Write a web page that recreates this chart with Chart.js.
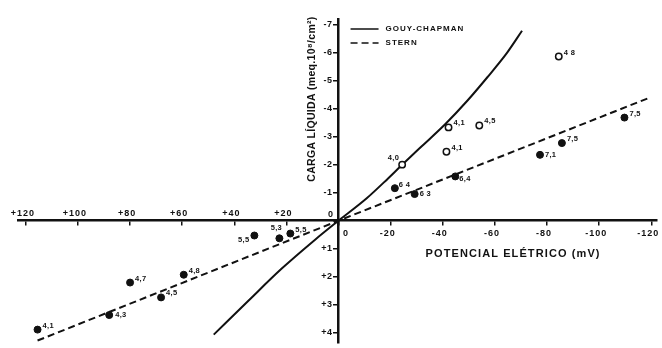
<!DOCTYPE html>
<html>
<head>
<meta charset="utf-8">
<script src="https://cdn.jsdelivr.net/npm/chart.js@4/dist/chart.umd.min.js"></script>
<style>
  body { margin: 0; background: #fff; }
  .wrap { width: 662px; height: 348px; position: relative; }
</style>
</head>
<body>
<div class="wrap"><canvas id="myChart"></canvas></div>
<script>
// filled dots (potencial mV, carga) and their pH labels
var filledX = [115.5, 88.0, 80.0, 68.1, 59.4, 32.3, 22.7, 18.5, -21.6, -29.2, -44.8, -77.3, -85.7, -109.7];
var filledY = [3.89, 3.37, 2.21, 2.74, 1.93, 0.53, 0.63, 0.46, -1.16, -0.95, -1.58, -2.35, -2.77, -3.68];
var filledLabels = ['4,1', '4,3', '4,7', '4,5', '4,8', '5,5', '5,3', '5,5', '6 4', '6 3', '6,4', '7,1', '7,5', '7,5'];

// open dots
var openX = [-24.4, -42.2, -54.0, -41.4, -84.5];
var openY = [-2.0, -3.33, -3.40, -2.46, -5.86];
var openLabels = ['4,0', '4,1', '4,5', '4,1', '4 8'];

// Gouy-Chapman curve
var gouyX = [47.9, 34.5, 21.9, 9.0, 0, -10.8, -18.9, -23.9, -31.5, -41.0, -49.4, -57.1, -64.7, -70.4];
var gouyY = [4.07, 2.85, 1.72, 0.68, 0, -0.80, -1.50, -1.95, -2.62, -3.45, -4.28, -5.12, -6.00, -6.78];

// Stern line
var sternX = [115.5, 0, -119.3];
var sternY = [4.28, 0, -4.39];

var xTicks = [120, 100, 80, 60, 40, 20, 0, -20, -40, -60, -80, -100, -120];
var yTicks = [-7, -6, -5, -4, -3, -2, -1, 0, 1, 2, 3, 4];

var xTitle = 'POTENCIAL ELÉTRICO (mV)';
var yTitle = 'CARGA LÍQUIDA (meq.10⁸/cm²)';

const pts = (xs, ys) => xs.map((v, i) => ({x: v, y: ys[i]}));
const FONT = '"Liberation Sans", Arial, sans-serif';
const INK = '#111';

// where each point label sits (dx, dy, align); default is upper right
const filledPlace = {1: [6, 0, 'left'], 5: [-5, 4, 'right'], 6: [-3, -10, 'center'], 8: [4, -3, 'left'],
    9: [5, 0, 'left'], 10: [4, 3, 'left'], 11: [5, 0, 'left']};
const openPlace = {0: [-3, -7, 'right']};

function txt(ctx, s, x, y, size, align, spacing) {
    ctx.font = 'bold ' + size + 'px ' + FONT;
    ctx.letterSpacing = (spacing || 0) + 'px';
    ctx.textAlign = align || 'left';
    ctx.textBaseline = 'middle';
    ctx.fillText(s, x, y);
}

const decor = {
    id: 'decor',
    afterDraw(chart) {
        const ctx = chart.ctx;
        const sx = chart.scales.x, sy = chart.scales.y;
        const x0 = sx.getPixelForValue(0), y0 = sy.getPixelForValue(0);
        ctx.save();
        ctx.fillStyle = INK;

        // x tick labels: positive above the axis, negative below
        xTicks.forEach(v => {
            if (v === 0) return;
            const px = sx.getPixelForValue(v) - 3;
            if (v > 0) txt(ctx, '+' + v, px, y0 - 7, 9, 'center', 1);
            else txt(ctx, String(v), px, y0 + 13, 9, 'center', 1);
        });
        // y tick labels left of the axis
        yTicks.forEach(v => {
            if (v === 0) return;
            txt(ctx, v < 0 ? String(v) : '+' + v, x0 - 6, sy.getPixelForValue(v), 9, 'right', 0.5);
        });
        txt(ctx, '0', x0 - 8, y0 - 6, 9, 'center');
        txt(ctx, '0', x0 + 7, y0 + 13, 9, 'center');

        // axis titles
        txt(ctx, xTitle, x0 + 87, y0 + 33, 11, 'left', 1.1);
        ctx.save();
        ctx.translate(x0 - 26, sy.top + 80);
        ctx.rotate(-Math.PI / 2);
        txt(ctx, yTitle, 0, 0, 10.5, 'center', 0.3);
        ctx.restore();

        // legend
        [2, 3].forEach((di, k) => {
            const ds = chart.data.datasets[di];
            const ly = sy.top + 10 + k * 14;
            ctx.save();
            ctx.strokeStyle = INK;
            ctx.lineWidth = 1.5;
            ctx.setLineDash(ds.borderDash || []);
            ctx.beginPath();
            ctx.moveTo(x0 + 12, ly);
            ctx.lineTo(x0 + 40, ly);
            ctx.stroke();
            ctx.restore();
            txt(ctx, ds.label, x0 + 47, ly, 8, 'left', 1);
        });

        // point labels
        const labelSet = (di, labels, place) => {
            chart.getDatasetMeta(di).data.forEach((el, j) => {
                const p = place[j] || [5, -4, 'left'];
                txt(ctx, labels[j], el.x + p[0], el.y + p[1], 7.5, p[2], 0.3);
            });
        };
        labelSet(0, filledLabels, filledPlace);
        labelSet(1, openLabels, openPlace);
        ctx.restore();
    }
};

const axisStyle = {
    type: 'linear',
    reverse: true,
    ticks: {display: false},
    grid: {drawOnChartArea: false, drawTicks: true, tickLength: 4, color: INK, lineWidth: 1.5},
    border: {display: true, color: INK, width: 2.5}
};

new Chart('myChart', {
    type: 'scatter',
    data: {
        datasets: [
            {label: 'pontos', data: pts(filledX, filledY), pointRadius: 3.5, pointBackgroundColor: INK,
                pointBorderColor: INK, pointBorderWidth: 1, showLine: false},
            {label: 'abertos', data: pts(openX, openY), pointRadius: 3.2, pointBackgroundColor: '#fff',
                pointBorderColor: INK, pointBorderWidth: 1.5, showLine: false},
            {label: 'GOUY-CHAPMAN', data: pts(gouyX, gouyY), showLine: true, borderColor: INK, borderWidth: 2,
                pointRadius: 0, cubicInterpolationMode: 'monotone'},
            {label: 'STERN', data: pts(sternX, sternY), showLine: true, borderColor: INK, borderWidth: 2,
                borderDash: [7, 4], pointRadius: 0}
        ]
    },
    options: {
        responsive: true,
        maintainAspectRatio: false,
        animation: false,
        layout: {padding: {left: 18, right: 2, top: 19, bottom: 0}},
        plugins: {legend: {display: false}, tooltip: {enabled: false}},
        scales: {
            x: Object.assign({}, axisStyle, {min: -122, max: 123, position: {y: 0},
                afterBuildTicks: s => { s.ticks = xTicks.map(v => ({value: v})); }}),
            y: Object.assign({}, axisStyle, {min: -7.2, max: 4.35, position: {x: 0},
                afterBuildTicks: s => { s.ticks = yTicks.map(v => ({value: v})); }})
        }
    },
    plugins: [decor]
});
</script>
</body>
</html>
